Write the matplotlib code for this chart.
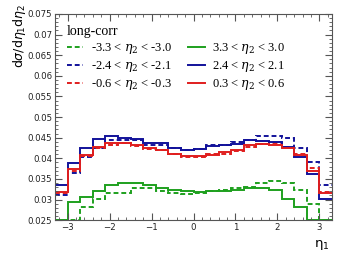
import numpy as np
import matplotlib.pyplot as plt
from matplotlib.ticker import MultipleLocator

# eta_1 bin edges
edges = np.round(np.arange(-3.3, 3.31, 0.3), 2)

# dashed (negative eta_2)
green_dash = [0.0, 0.0, 0.0281, 0.0302, 0.0315, 0.0316, 0.0327, 0.0329, 0.0321, 0.0315, 0.0313,
              0.0315, 0.0321, 0.0323, 0.0327, 0.0331, 0.0340, 0.0344, 0.0339, 0.0324, 0.0290, 0.0]
blue_dash = [0.0311, 0.0365, 0.0403, 0.0425, 0.0445, 0.0445, 0.0444, 0.0433, 0.0433, 0.0425, 0.0419,
             0.0423, 0.0431, 0.0431, 0.0440, 0.0445, 0.0453, 0.0453, 0.0450, 0.0425, 0.0390, 0.0335]
red_dash = [0.0315, 0.0368, 0.0405, 0.0426, 0.0433, 0.0436, 0.0430, 0.0422, 0.0419, 0.0410, 0.0403,
            0.0403, 0.0410, 0.0411, 0.0418, 0.0427, 0.0435, 0.0437, 0.0427, 0.0411, 0.0377, 0.0319]

# solid (positive eta_2)
green_solid = [0.0, 0.0294, 0.0306, 0.0321, 0.0334, 0.0339, 0.0339, 0.0334, 0.0327, 0.0323, 0.0321,
               0.0319, 0.0321, 0.0321, 0.0324, 0.0327, 0.0327, 0.0324, 0.0302, 0.0282, 0.0, 0.0]
blue_solid = [0.0335, 0.0389, 0.0425, 0.0446, 0.0455, 0.0450, 0.0446, 0.0438, 0.0436, 0.0425, 0.0421,
              0.0423, 0.0430, 0.0431, 0.0434, 0.0444, 0.0441, 0.0439, 0.0427, 0.0403, 0.0361, 0.0302]
red_solid = [0.0318, 0.0373, 0.0409, 0.0427, 0.0437, 0.0436, 0.0433, 0.0425, 0.0421, 0.0411, 0.0405,
             0.0405, 0.0408, 0.0415, 0.0419, 0.0431, 0.0435, 0.0433, 0.0426, 0.0409, 0.0369, 0.0315]

dash_labels = [r'-3.3 < $\eta_2$ < -3.0', r'-2.4 < $\eta_2$ < -2.1', r'-0.6 < $\eta_2$ < -0.3']
solid_labels = [r'3.3 < $\eta_2$ < 3.0', r'2.4 < $\eta_2$ < 2.1', r'0.3 < $\eta_2$ < 0.6']

GREEN = '#1ea01e'
BLUE = '#12129a'
RED = '#e01e1e'
YMIN, YMAX = 0.025, 0.075

plt.rcParams['mathtext.fontset'] = 'dejavuserif'
fig = plt.figure(figsize=(3.49, 2.63), dpi=100)
ax = fig.add_axes([0.158, 0.163, 0.793, 0.784])

handles = []
for vals, col, lab in zip([green_dash, blue_dash, red_dash], [GREEN, BLUE, RED], dash_labels):
    h = ax.stairs(np.clip(vals, YMIN, None), edges, color=col, lw=1.4,
                  linestyle=(0, (2.5, 1.5)), label=lab, baseline=None)
    handles.append(h)
for vals, col, lab in zip([green_solid, blue_solid, red_solid], [GREEN, BLUE, RED], solid_labels):
    h = ax.stairs(np.clip(vals, YMIN, None), edges, color=col, lw=1.4, label=lab, baseline=None)
    handles.append(h)

ax.set_xlim(-3.3, 3.3)
ax.set_ylim(YMIN, YMAX)
ax.xaxis.set_major_locator(MultipleLocator(1))
ax.xaxis.set_minor_locator(MultipleLocator(0.2))
ax.yaxis.set_minor_locator(MultipleLocator(0.001))
ax.set_yticks(np.arange(0.025, 0.0751, 0.005))
ax.set_yticklabels(['0.025', '0.03', '0.035', '0.04', '0.045', '0.05', '0.055',
                    '0.06', '0.065', '0.07', '0.075'])
ax.tick_params(which='both', direction='in', top=True, right=True, labelsize=6.2, pad=2,
               color='#555555', labelcolor='#222222')
ax.tick_params(which='major', length=5)
ax.tick_params(which='minor', length=2.5)
for s in ax.spines.values():
    s.set_color('#555555')
    s.set_linewidth(0.8)

leg = ax.legend(handles=handles, ncol=2, loc='upper left', bbox_to_anchor=(0.03, 0.965),
                frameon=False, title='long-corr', alignment='left', handlelength=1.3,
                columnspacing=1.3, handletextpad=0.6, labelspacing=0.25,
                borderaxespad=0.0, borderpad=0.3,
                prop={'family': 'Liberation Serif', 'size': 9},
                title_fontproperties={'family': 'Liberation Serif', 'size': 10})

fig.text(0.055, 0.985, r'd$\sigma$/d$\eta_1$d$\eta_2$', rotation=90, ha='center', va='top',
         fontsize=9, math_fontfamily='dejavusans')
fig.text(0.945, 0.04, r'$\mathrm{\eta}_1$', ha='right', va='bottom', fontsize=9.5,
         math_fontfamily='dejavusans')

fig.savefig('out.png', dpi=100)
